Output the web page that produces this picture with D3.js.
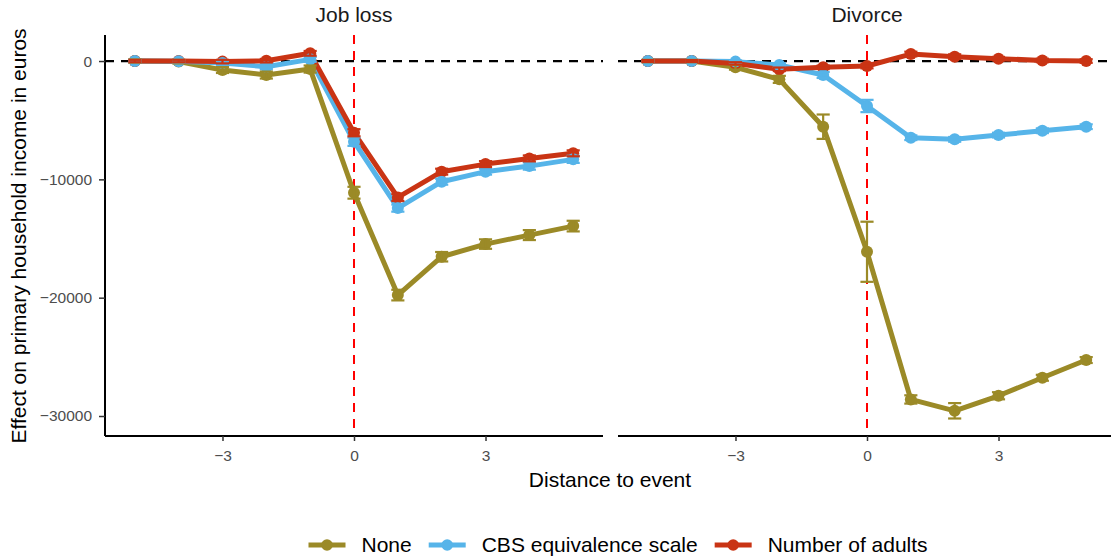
<!DOCTYPE html>
<html>
<head>
<meta charset="utf-8">
<script src="https://cdn.jsdelivr.net/npm/d3@7"></script>
<style>
  html, body { margin: 0; padding: 0; background: #fff; }
  svg { display: block; font-family: "Liberation Sans", Arial, sans-serif; }
</style>
</head>
<body>
<svg id="chart" width="1111" height="560"></svg>
<script>
// Event-study estimates by household income equivalence scale
const years = [-5, -4, -3, -2, -1, 0, 1, 2, 3, 4, 5];
const panels = ["Job loss", "Divorce"];
const seriesNames = ["None", "CBS equivalence scale", "Number of adults"];
const seriesColors = ["#9B8A27", "#56B4E9", "#C93414"];

// Job loss: point estimates and half-width of the confidence interval
const jobNone = [0, -50, -760, -1180, -680, -11130, -19780, -16540, -15470, -14710, -13950];
const jobNoneErr = [150, 150, 250, 300, 300, 500, 450, 400, 400, 420, 450];
const jobCbs = [0, -20, -170, -480, 140, -6820, -12430, -10200, -9350, -8880, -8310];
const jobCbsErr = [100, 100, 150, 200, 200, 350, 300, 250, 250, 300, 300];
const jobAdults = [0, 0, -50, 30, 650, -6060, -11530, -9350, -8710, -8230, -7800];
const jobAdultsErr = [100, 100, 150, 150, 200, 300, 300, 250, 250, 250, 250];

// Divorce
const divNone = [0, 0, -530, -1550, -5550, -16120, -28600, -29560, -28290, -26770, -25270];
const divNoneErr = [100, 100, 200, 300, 1030, 2540, 350, 650, 300, 250, 250];
const divCbs = [0, 0, -50, -340, -1180, -3800, -6480, -6620, -6260, -5890, -5550];
const divCbsErr = [80, 80, 100, 150, 250, 520, 200, 200, 200, 200, 200];
const divAdults = [0, 0, -200, -700, -530, -420, 590, 370, 200, 50, 0];
const divAdultsErr = [80, 80, 100, 150, 150, 200, 200, 200, 150, 150, 150];

const xTicks = [-3, 0, 3];
const yTicks = [0, -10000, -20000, -30000];

const panelData = [
  [[jobNone, jobNoneErr], [jobCbs, jobCbsErr], [jobAdults, jobAdultsErr]],
  [[divNone, divNoneErr], [divCbs, divCbsErr], [divAdults, divAdultsErr]]
];

const svg = d3.select("#chart");
const fmt = d => d < 0 ? "\u2212" + Math.abs(d) : String(d);

const plotTop = 35, plotBottom = 436;
const panelLeft = [105, 618];
const panelWidth = 498;
const tickFont = 15.5, titleFont = 21;

const y = d3.scaleLinear().domain([-31690, 2200]).range([plotBottom, plotTop]);

// Layers drawn per panel: lines, points, error bars
const lineOrder = [0, 1, 2];
const pointOrder = [0, 2, 1];

panels.forEach((name, p) => {
  const x = d3.scaleLinear().domain([-5.68, 5.68]).range([panelLeft[p], panelLeft[p] + panelWidth]);
  const g = svg.append("g");

  // reference lines
  g.append("line")
    .attr("x1", x.range()[0]).attr("x2", x.range()[1])
    .attr("y1", y(0)).attr("y2", y(0))
    .attr("stroke", "#000").attr("stroke-width", 2.2)
    .attr("stroke-dasharray", "9,7");
  g.append("line")
    .attr("x1", x(0)).attr("x2", x(0))
    .attr("y1", plotTop).attr("y2", plotBottom)
    .attr("stroke", "#FF0000").attr("stroke-width", 2)
    .attr("stroke-dasharray", "9,7");

  const line = d3.line().x((d, i) => x(years[i])).y(d => y(d));

  lineOrder.forEach(s => {
    g.append("path")
      .datum(panelData[p][s][0])
      .attr("d", line)
      .attr("fill", "none")
      .attr("stroke", seriesColors[s])
      .attr("stroke-width", 5)
      .attr("stroke-linejoin", "round");
  });

  pointOrder.forEach(s => {
    g.selectAll(null)
      .data(panelData[p][s][0])
      .join("circle")
      .attr("cx", (d, i) => x(years[i]))
      .attr("cy", d => y(d))
      .attr("r", 6)
      .attr("fill", seriesColors[s]);
  });

  [0, 1, 2].forEach(s => {
    const vals = panelData[p][s][0], errs = panelData[p][s][1];
    const eg = g.append("g").attr("stroke", seriesColors[s]).attr("stroke-width", 2.2);
    const cap = 0.15;
    vals.forEach((v, i) => {
      const xi = years[i];
      eg.append("line").attr("x1", x(xi)).attr("x2", x(xi))
        .attr("y1", y(v + errs[i])).attr("y2", y(v - errs[i]));
      eg.append("line").attr("x1", x(xi - cap)).attr("x2", x(xi + cap))
        .attr("y1", y(v + errs[i])).attr("y2", y(v + errs[i]));
      eg.append("line").attr("x1", x(xi - cap)).attr("x2", x(xi + cap))
        .attr("y1", y(v - errs[i])).attr("y2", y(v - errs[i]));
    });
  });

  // x axis
  const xAxis = d3.axisBottom(x).tickValues(xTicks).tickFormat(fmt).tickSize(5).tickPadding(9);
  const ax = g.append("g").attr("transform", `translate(0,${plotBottom})`).call(xAxis);
  ax.select(".domain").attr("stroke", "#000").attr("stroke-width", 2).attr("d", `M${x.range()[0]},0H${x.range()[1]}`);
  ax.selectAll(".tick line").attr("stroke", "#333").attr("stroke-width", 1.5);
  ax.selectAll(".tick text").attr("fill", "#4D4D4D").attr("font-size", tickFont)
    .attr("font-family", "Liberation Sans, Arial, sans-serif");

  // strip title
  svg.append("text")
    .attr("x", x(0)).attr("y", 22)
    .attr("text-anchor", "middle")
    .attr("font-size", titleFont).attr("fill", "#1A1A1A")
    .text(name);

  if (p === 0) {
    const yAxis = d3.axisLeft(y).tickValues(yTicks).tickFormat(fmt).tickSize(6).tickPadding(7);
    const ay = g.append("g").attr("transform", `translate(${panelLeft[0]},0)`).call(yAxis);
    ay.select(".domain").attr("stroke", "#000").attr("stroke-width", 2).attr("d", `M0,${plotTop}V${plotBottom}`);
    ay.selectAll(".tick line").attr("stroke", "#333").attr("stroke-width", 1.5);
    ay.selectAll(".tick text").attr("fill", "#4D4D4D").attr("font-size", tickFont)
      .attr("font-family", "Liberation Sans, Arial, sans-serif");
  }
});

// axis titles
svg.append("text")
  .attr("x", 610).attr("y", 487)
  .attr("text-anchor", "middle").attr("font-size", titleFont).attr("fill", "#000")
  .text("Distance to event");
svg.append("text")
  .attr("transform", "translate(26,236) rotate(-90)")
  .attr("text-anchor", "middle").attr("font-size", titleFont).attr("fill", "#000")
  .text("Effect on primary household income in euros");

// legend
const legend = svg.append("g");
let lx = 0;
const ly = 545;
seriesNames.forEach((n, s) => {
  const item = legend.append("g").attr("transform", `translate(${lx},0)`);
  item.append("line").attr("x1", 0).attr("x2", 37).attr("y1", ly).attr("y2", ly)
    .attr("stroke", seriesColors[s]).attr("stroke-width", 5);
  item.append("circle").attr("cx", 18.5).attr("cy", ly).attr("r", 5.8).attr("fill", seriesColors[s]);
  const t = item.append("text").attr("x", 53).attr("y", ly + 7)
    .attr("font-size", titleFont).attr("fill", "#000").text(n);
  lx += 53 + t.node().getComputedTextLength() + 17;
});
const legendWidth = lx - 17;
legend.attr("transform", `translate(${(618 - legendWidth / 2).toFixed(1)},0)`);
</script>
</body>
</html>
